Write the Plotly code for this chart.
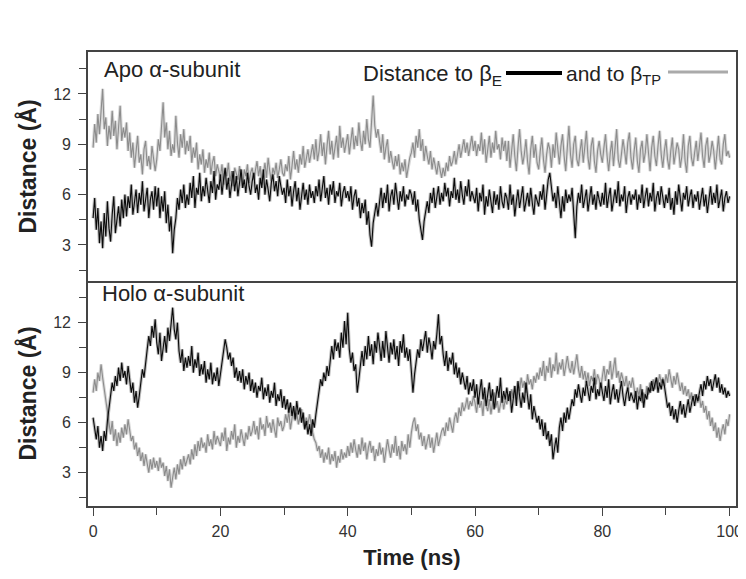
import plotly.graph_objects as go

# time axis (ns), 0.25 ns sampling
time_ns = [i * 0.25 for i in range(401)]

# Apo alpha-subunit: distance to beta_E (black)
apo_to_bE = [
    4.6, 5.8, 3.9, 5.2, 3.1, 4.4, 2.8, 4.9, 3.5, 5.6, 4.0, 3.2, 4.8, 5.9, 3.7, 4.5, 5.3, 4.1, 5.7, 4.6,
    6.0, 4.7, 5.9, 5.2, 6.6, 4.8, 5.5, 6.3, 4.9, 6.1, 5.4, 6.8, 5.0, 5.8, 6.4, 4.6, 5.7, 6.2, 5.1, 6.5,
    5.3, 6.4, 4.6, 5.9, 5.0, 6.2, 4.3, 5.4, 3.8, 4.7, 2.5, 3.9, 4.6, 5.8, 5.1, 6.3, 5.5, 6.6, 5.2, 6.0,
    5.4, 6.7, 5.8, 7.1, 5.2, 6.4, 6.0, 7.3, 5.6, 6.5, 5.9, 7.0, 6.2, 5.5, 6.8, 6.1, 7.4, 5.7, 6.6, 6.3,
    7.2, 6.0, 6.9, 7.6, 6.3, 7.0, 5.8, 6.7, 7.4, 6.2, 7.1, 5.9, 6.8, 7.5, 6.4, 6.9, 6.1, 7.3, 6.5, 6.0,
    6.8, 7.3, 6.1, 6.6, 5.7, 7.0, 6.4, 7.5, 6.0, 6.9, 6.3, 5.6, 6.7, 7.2, 6.2, 6.8, 5.9, 7.1, 6.5, 6.0,
    6.4, 5.5, 6.9, 5.9, 6.5, 5.3, 6.2, 6.8, 5.6, 6.4, 5.1, 6.0, 6.7, 5.7, 6.3, 5.4, 6.6, 5.8, 6.2, 5.5,
    6.5, 5.9, 6.9, 5.6, 6.3, 7.1, 5.8, 6.4, 5.4, 6.6, 6.0, 6.8, 5.5, 6.2, 5.9, 6.7, 5.3, 6.1, 6.5, 5.8,
    6.2, 5.6, 6.5, 5.1, 5.9, 6.3, 5.3, 5.8, 4.6, 5.5, 4.9, 5.7, 4.2, 5.0, 3.6, 2.9, 4.3, 4.8, 5.5, 4.7,
    5.8, 6.4, 5.2, 6.1, 5.5, 6.6, 5.0, 5.9, 6.3, 5.4, 6.7, 5.7, 5.1, 6.2, 5.6, 6.5, 5.3, 6.0, 5.7, 6.3,
    6.0, 5.4, 6.2, 5.0, 5.7, 4.5, 4.0, 3.3, 4.4, 5.1, 5.6, 4.9, 6.1, 5.5, 6.4, 5.2, 5.9, 6.5, 5.4, 6.1,
    5.6, 6.7, 5.9, 6.4, 5.3, 6.2, 5.8, 7.0, 5.7, 6.3, 5.5, 6.8, 6.0, 5.4, 6.5, 5.9, 6.9, 5.6, 6.2, 5.8,
    5.5, 6.4, 5.0, 6.1, 5.6, 6.6, 4.8, 5.9, 5.3, 6.3, 5.7, 4.9, 6.2, 5.4, 6.0, 5.1, 6.5, 5.6, 5.2, 6.1,
    5.8, 5.1, 6.6, 5.4, 6.0, 4.7, 5.6, 6.3, 5.2, 5.9, 6.5, 5.0, 5.7, 6.1, 5.3, 6.4, 5.5, 4.8, 6.0, 5.6,
    5.3, 6.2, 5.7, 6.6, 5.1, 6.0, 6.9, 7.3, 6.4, 5.6, 6.1, 5.2, 6.5, 5.4, 4.6, 5.9, 5.0, 6.3, 5.5, 6.0,
    5.6, 6.4, 4.9, 3.4, 5.3, 6.1, 5.5, 6.6, 5.2, 5.9, 6.3, 5.0, 5.8, 6.5, 5.4, 6.0, 5.1, 6.2, 5.7, 5.3,
    6.1, 5.4, 6.7, 5.2, 5.9, 6.4, 5.0, 5.7, 6.3, 5.5, 6.8, 5.3, 6.0, 5.6, 6.5, 4.9, 5.8, 6.2, 5.4, 6.0,
    5.7, 6.3, 5.1, 6.0, 5.5, 6.6, 5.2, 5.9, 6.4, 5.3, 6.1, 5.6, 6.7, 5.0, 5.8, 6.2, 5.4, 6.5, 5.7, 5.2,
    6.0, 5.5, 6.4, 5.1, 5.8, 4.8, 6.2, 5.4, 6.6, 5.6, 5.0, 6.1, 5.7, 6.5, 5.3, 5.9, 6.3, 5.2, 6.0, 5.6,
    6.2, 5.1, 5.8, 6.4, 5.3, 6.0, 4.9, 5.7, 6.5, 5.4, 6.1, 5.5, 6.6, 5.2, 5.9, 6.3, 5.0, 5.8, 6.2, 5.5,
    5.9,
]

# Apo alpha-subunit: distance to beta_TP (gray)
apo_to_bTP = [
    8.8, 10.2, 9.1, 10.8, 9.6, 11.2, 12.3, 9.9, 10.6, 8.9, 10.1, 9.3, 11.0, 9.5, 10.4, 8.7, 9.8, 11.3, 9.2, 10.0,
    9.4, 10.3, 8.6, 9.7, 8.2, 9.1, 7.6, 8.8, 9.5, 7.9, 8.4, 7.2, 8.7, 9.2, 7.7, 8.3, 7.5, 8.9, 8.0, 7.4,
    8.1, 9.3, 8.6, 10.2, 11.5, 9.4, 10.3, 8.7, 9.8, 8.3, 9.0, 8.5, 10.7, 9.1, 8.2, 9.6, 8.8, 9.9, 8.4, 9.2,
    8.6, 9.5, 7.9, 8.8, 8.2, 9.1, 7.5, 8.4, 7.8, 8.7, 7.3, 8.1, 7.6, 8.5, 7.2, 7.9, 8.3, 7.1, 7.8, 7.4,
    7.0, 7.8, 6.6, 7.5, 7.1, 7.9, 6.8, 7.4, 6.5, 7.6, 7.2, 6.9, 7.7, 7.0, 6.4, 7.5, 7.1, 7.8, 6.7, 7.3,
    7.6, 6.9, 7.4, 8.0, 7.1, 7.7, 6.6, 7.3, 7.9, 7.0, 8.2, 7.4, 6.8, 7.6, 7.2, 7.9, 7.0, 7.5, 8.1, 7.3,
    7.1, 7.8, 7.4, 8.3, 6.9, 7.7, 8.6, 7.5, 8.1, 7.3, 8.4, 7.8, 8.9, 7.6, 8.2, 8.7, 7.9, 8.5, 9.0, 8.1,
    9.3, 8.0, 8.6, 9.6, 8.3, 9.1, 7.8, 8.9, 9.8, 8.4, 9.2, 8.1, 8.7, 9.5, 8.2, 10.1, 8.8, 9.4, 8.5, 9.0,
    9.6, 8.4, 9.1, 10.0, 8.7, 9.5, 8.9, 10.3, 9.2, 8.6, 9.8, 9.0, 10.5, 9.3, 8.8, 10.2, 11.9, 10.1, 9.4, 9.9,
    9.2, 8.5, 9.6, 8.1, 8.8, 9.3, 7.9, 8.6, 8.0, 7.5, 8.3, 7.7, 8.4, 7.2, 7.9, 7.4, 8.1, 7.0, 7.6, 8.2,
    8.5, 9.1, 8.2, 9.5, 8.8, 9.9, 8.6, 9.3, 8.0, 8.9, 8.3, 7.8, 8.6, 7.5, 8.2, 7.7, 7.2, 8.0, 7.4, 7.0,
    7.6, 7.1, 7.9, 7.4, 8.3, 7.7, 8.0, 8.6, 7.8, 8.4, 9.0, 8.2, 8.7, 9.3, 8.5, 9.1, 8.3, 8.9, 9.5, 8.6,
    9.2, 8.3, 9.0, 8.6, 9.7, 8.4, 9.3, 7.9, 8.8, 9.5, 8.2, 9.1, 8.5, 9.8, 8.7, 9.0, 8.1, 9.4, 8.6, 9.2,
    8.0, 9.2, 7.6, 8.5, 9.6, 8.3, 7.4, 8.8, 9.9, 8.6, 7.8, 8.4, 9.3, 8.0, 7.2, 8.7, 9.5, 8.2, 9.0, 7.9,
    7.5, 8.6, 9.4, 8.1, 7.3, 8.4, 9.1, 8.7, 7.6, 9.0, 8.2, 9.7, 8.5, 7.8, 8.9, 9.6, 8.3, 7.4, 8.8, 10.1,
    8.4, 7.6, 9.0, 9.5, 8.1, 7.7, 8.6, 9.3, 7.9, 8.7, 9.8, 8.2, 7.5, 8.9, 9.4, 8.0, 7.3, 8.6, 9.2, 8.4,
    7.9, 8.8, 9.6, 8.3, 7.4, 8.5, 9.2, 7.7, 8.9, 9.9, 8.1, 7.6, 8.4, 9.3, 8.6, 7.8, 9.1, 9.7, 8.2, 7.5,
    8.6, 9.4, 8.0, 7.3, 8.7, 9.2, 7.9, 8.5, 9.6, 8.2, 7.4, 8.8, 9.5, 8.3, 7.7, 8.9, 9.8, 8.4, 7.6, 8.6,
    9.3, 8.1, 7.5, 8.6, 9.4, 7.8, 8.4, 9.1, 8.7, 7.6, 8.3, 9.6, 8.0, 7.3, 8.9, 9.5, 8.2, 7.7, 8.5, 9.2,
    8.0, 8.8, 9.7, 8.3, 7.6, 8.9, 9.4, 7.9, 8.4, 9.2, 8.6, 7.5, 8.7, 9.5, 8.1, 7.8, 9.0, 9.6, 8.3, 8.6,
    8.2,
]

# Holo alpha-subunit: distance to beta_E (black)
holo_to_bE = [
    6.3, 5.6, 5.0, 5.8, 4.5, 5.2, 4.3, 5.5, 4.9, 6.1, 6.8, 7.6, 8.4, 7.9, 8.8, 8.2, 9.3, 8.5, 9.6, 8.7,
    9.1, 8.3, 9.4, 8.6, 7.8, 8.4, 7.2, 7.9, 6.9, 7.6, 8.5, 9.2, 8.7, 9.8, 10.4, 11.2, 10.6, 11.8, 11.1, 12.2,
    10.8, 10.1, 11.4, 9.7, 10.5, 11.2, 10.2, 11.7, 10.9, 12.1, 12.9, 11.6, 11.0, 12.0, 10.3, 9.6, 10.4, 9.1, 9.9, 9.3,
    10.0, 9.4, 10.6, 9.0, 9.8, 9.3, 10.2, 8.8, 9.5, 8.9, 9.7, 8.4, 9.2, 8.6, 9.6, 8.3, 9.0, 8.5, 9.3, 8.2,
    8.9, 9.6, 10.3, 11.0, 10.5, 9.8, 10.2, 9.4, 9.9, 8.7, 9.3, 8.5, 9.1, 8.4, 9.2, 8.0, 8.8, 8.3, 9.0, 7.9,
    8.6, 7.8, 8.4, 7.5, 8.2, 7.9, 8.7, 7.4, 8.1, 7.6, 8.3, 7.2, 7.9, 7.5, 8.4, 7.0, 7.7, 7.3, 8.0, 6.9,
    7.6, 6.8, 7.4, 6.6, 7.2, 6.4, 7.0, 6.2, 7.3, 6.5, 6.9, 6.0, 6.6, 5.6, 6.1, 5.3, 5.9, 5.2, 6.2, 5.7,
    6.5, 7.3, 7.9, 8.6, 8.2, 9.0, 8.5, 9.4, 8.8, 9.9, 10.6, 9.8, 11.0, 10.3, 10.8, 9.9, 11.4, 10.5, 12.1, 10.7,
    12.6, 10.4, 9.6, 10.2, 9.1, 9.5, 7.8, 8.6, 9.7, 10.3, 9.4, 10.6, 9.8, 11.2, 10.0, 10.7, 9.5, 10.9, 10.2, 11.4,
    10.6, 9.7, 10.9, 9.9, 11.5, 10.3, 9.6, 10.8, 10.1, 11.0, 9.8, 10.6, 9.4, 10.9, 10.2, 11.3, 9.9, 10.5, 9.7, 10.4,
    8.8, 7.8, 8.9, 9.6, 10.4, 9.9, 11.0, 10.3, 10.8, 11.5, 10.2, 11.1, 10.6, 9.8, 10.9, 10.4, 11.3, 12.5, 10.7, 11.2,
    10.1, 9.4, 10.3, 9.1, 9.9, 9.5, 10.2, 8.9, 9.6, 8.7, 9.3, 8.3, 9.0, 8.5, 8.0, 8.8, 7.7, 8.4, 7.9, 8.6,
    7.5, 8.3, 7.1, 7.9, 8.6, 7.4, 8.1, 7.0, 7.8, 8.4, 7.3, 8.0, 6.8, 7.6, 8.2, 7.5, 8.7, 7.2, 7.9, 7.4,
    8.1, 7.3, 7.9, 6.6, 7.5, 8.2, 7.0, 8.5, 7.6, 6.9, 7.8, 7.2, 8.4, 7.4, 6.8, 7.7, 6.2, 7.0, 6.5, 6.0,
    6.4, 5.6, 6.2, 5.2, 6.0, 5.0, 5.5, 4.6, 5.3, 3.8, 4.5, 5.1, 4.2, 5.7, 6.3, 5.5, 6.6, 6.0, 6.9, 6.2,
    6.8, 7.4, 7.0, 8.0, 7.5, 8.3, 7.7, 7.2, 8.1, 7.6, 8.5, 7.9, 7.3, 8.2, 7.8, 8.7, 7.4, 8.0, 7.6, 8.4,
    7.9, 7.3, 8.2, 7.5, 8.6, 7.1, 7.8, 8.3, 7.4, 8.0, 7.2, 7.9, 8.5, 7.6, 7.0, 7.7, 8.1, 7.3, 7.8, 7.5,
    7.2, 7.9, 6.8, 7.6, 7.3, 8.0, 6.9, 7.7, 7.4, 8.1, 7.8, 8.5, 7.9, 8.3, 8.7, 7.8, 8.4, 8.0, 8.6, 8.2,
    7.5, 6.9, 7.2, 6.4, 7.0, 6.2, 6.8, 6.0, 6.7, 7.3, 6.5, 7.1, 6.3, 6.9, 7.4, 6.6, 7.2, 7.6, 7.0, 7.7,
    7.3, 7.9, 8.3, 7.6, 8.5, 8.0, 8.8, 8.2, 8.6, 7.9, 8.4, 8.9, 8.1, 8.7, 7.8, 8.3, 7.7, 8.1, 7.5, 7.9,
    7.6,
]

# Holo alpha-subunit: distance to beta_TP (gray)
holo_to_bTP = [
    7.8, 8.6, 7.9, 9.0, 8.5, 9.5, 8.7, 8.0, 7.2, 6.4, 5.8, 5.3, 6.1, 4.9, 5.6, 4.6, 5.4, 4.8, 5.7, 5.1,
    5.9, 5.3, 6.2, 5.6, 4.9, 5.2, 4.4, 4.8, 4.0, 4.5, 3.7, 4.2, 3.4, 4.1, 3.6, 3.0, 3.8, 3.2, 3.9, 3.3,
    3.7, 3.1, 3.9, 3.3, 3.6, 2.8, 3.4, 2.5, 3.2, 2.1, 2.7, 3.3, 2.6, 3.5, 2.9, 3.8, 3.2, 4.0, 3.4, 3.7,
    4.1, 3.5, 4.4, 3.8, 4.7, 4.0, 4.9, 4.3, 5.1, 4.5, 4.8, 4.2, 5.3, 4.6, 5.0, 4.4, 5.5, 4.7, 5.2, 4.9,
    4.6, 5.4, 4.9, 5.7, 4.3, 5.1, 4.7, 5.5, 5.0, 5.9, 4.5, 5.2, 4.8, 5.6, 5.1, 4.6, 5.4, 5.0, 5.8, 5.2,
    5.5, 6.1, 5.3, 5.8, 5.0, 6.3, 5.6, 5.9, 5.2, 6.4, 5.7, 6.0, 5.4, 6.2, 5.6, 5.1, 6.3, 5.8, 6.1, 5.5,
    5.8, 6.5, 6.0, 6.7, 5.6, 6.3, 6.9, 6.1, 6.6, 5.9, 6.4, 6.8, 6.2, 5.7, 6.3, 5.9, 6.5, 5.8, 5.4, 5.0,
    4.8, 4.3, 4.6, 3.9, 4.4, 3.6, 4.2, 3.8, 4.5, 3.5, 4.1, 3.7, 4.3, 3.3, 4.0, 3.6, 4.4, 3.8, 4.2, 3.9,
    4.6, 4.0, 4.8, 4.2, 5.0, 4.4, 3.9, 4.7, 4.1, 5.1, 4.3, 4.8, 3.8, 4.5, 4.9, 4.2, 4.6, 3.7, 4.4, 4.0,
    4.8, 4.1, 4.5, 3.6, 4.3, 5.0, 4.4, 3.9, 4.7, 4.2, 5.2, 4.0, 4.6, 3.8, 4.9, 4.3, 4.7, 4.1, 5.3, 4.5,
    5.4, 6.0, 6.3, 5.5, 5.9, 5.0, 5.4, 4.6, 5.2, 4.4, 4.9, 5.3, 4.5, 5.1, 4.2, 4.8, 5.4, 4.6, 5.0, 5.5,
    5.7, 5.2, 6.0, 5.5, 6.3, 5.8, 5.4, 6.2, 6.6, 6.0, 6.9, 6.4, 7.2, 6.7, 7.0, 7.5, 6.8, 7.3, 7.0, 7.6,
    7.2, 6.6, 7.5, 6.9, 7.3, 6.4, 7.7, 7.0, 6.7, 7.4, 6.5, 7.2, 7.8, 6.9, 7.3, 6.6, 7.1, 7.6, 6.8, 7.4,
    7.1, 7.7, 7.3, 8.0, 7.5, 8.2, 7.4, 8.4, 7.9, 8.7, 8.1, 8.5, 7.8, 8.9, 8.3, 8.6, 8.0, 8.8, 8.4, 9.0,
    8.6, 9.3, 8.8, 9.7, 8.5, 9.4, 9.0, 9.9, 8.7, 9.5, 9.1, 10.2, 8.9, 9.6, 9.2, 9.8, 8.8, 9.4, 10.0, 9.3,
    9.0, 9.7, 8.9, 9.5, 10.1, 9.2, 8.7, 9.4, 8.6, 9.1, 8.4, 9.0, 8.2, 8.8, 8.5, 9.2, 8.3, 8.9, 8.6, 8.1,
    8.8, 9.4, 8.5, 9.2, 8.9, 9.7, 8.6, 9.3, 9.9, 8.7, 9.1, 8.4, 9.0, 8.6, 8.2, 8.8, 8.0, 8.5, 8.1, 8.7,
    7.9, 7.4, 8.1, 7.6, 8.3, 7.2, 7.8, 7.5, 8.2, 7.7, 8.4, 7.9, 8.6, 8.0, 8.7, 8.3, 8.9, 8.4, 8.7, 8.2,
    8.9, 8.4, 9.2, 8.6, 8.1, 8.8, 8.3, 9.0, 8.5, 7.9, 8.4, 7.7, 8.2, 7.6, 8.0, 7.4, 7.8, 7.3, 7.7, 7.5,
    7.2, 7.6, 6.9, 7.3, 6.6, 7.0, 6.2, 6.7, 5.8, 6.3, 5.5, 6.0, 5.1, 5.7, 4.9, 5.5, 5.9, 5.3, 6.2, 5.8,
    6.5,
]

x_ticks = [0, 20, 40, 60, 80, 100]
y_ticks = [3, 6, 9, 12]

BLACK = "#0a0a0a"
GRAY = "#8c8c8c"
BLACK_HALO = "rgba(60,60,60,0.35)"
GRAY_HALO = "rgba(170,170,170,0.45)"
FONT = "Liberation Sans, Arial, sans-serif"
AX = "#444444"

# The page body has an 8 px default margin; the figure is sized so that the
# plot frame lands at page x 88..736, y 52..506.
OFF = 8
FIG_W, FIG_H = 746 - OFF, 579 - OFF

fig = go.Figure()

def add_series(y, color, halo, xa, ya):
    fig.add_trace(go.Scatter(x=time_ns, y=y, mode="lines", line=dict(color=halo, width=3.2),
                             xaxis=xa, yaxis=ya, showlegend=False, hoverinfo="skip"))
    fig.add_trace(go.Scatter(x=time_ns, y=y, mode="lines", line=dict(color=color, width=1.1),
                             xaxis=xa, yaxis=ya, showlegend=False))

add_series(apo_to_bTP, GRAY, GRAY_HALO, "x", "y")
add_series(apo_to_bE, BLACK, BLACK_HALO, "x", "y")
add_series(holo_to_bTP, GRAY, GRAY_HALO, "x2", "y2")
add_series(holo_to_bE, BLACK, BLACK_HALO, "x2", "y2")

split = 0.4956
axcommon = dict(showline=True, linecolor=AX, linewidth=1.6,
                showgrid=False, zeroline=False, automargin=False)
ycommon = dict(axcommon, mirror=True, tickvals=y_ticks, ticks="outside", ticklen=8, tickwidth=1.4,
               tickcolor=AX, ticklabelstandoff=4,
               tickfont=dict(family=FONT, size=16, color="#333"),
               minor=dict(tick0=1.5, dtick=3, ticks="outside", ticklen=7, tickwidth=1.4,
                          tickcolor=AX),
               title=dict(text="<b>Distance (Å)</b>", font=dict(family=FONT, size=23, color="#222"),
                          standoff=10))

fig.update_layout(
    width=FIG_W, height=FIG_H,
    margin=dict(l=88 - OFF, r=10, t=52 - OFF, b=73),
    paper_bgcolor="white", plot_bgcolor="white",
    xaxis=dict(axcommon, mirror=True, domain=[0, 1], anchor="y", range=[-0.8, 101],
               showticklabels=False, ticks="", matches="x2"),
    yaxis=dict(ycommon, domain=[split, 1], anchor="x", range=[0.85, 14.5]),
    xaxis2=dict(axcommon, mirror=False, domain=[0, 1], anchor="y2", range=[-0.8, 101],
                tickvals=x_ticks, ticks="outside", ticklen=8, tickwidth=1.4, tickcolor=AX,
                ticklabelstandoff=2,
                tickfont=dict(family=FONT, size=16, color="#333"),
                minor=dict(tick0=10, dtick=20, ticks="outside", ticklen=7, tickwidth=1.4,
                           tickcolor=AX),
                title=dict(text="<b>Time (ns)</b>", font=dict(family=FONT, size=22, color="#222"),
                           standoff=11)),
    yaxis2=dict(ycommon, domain=[0, split], anchor="x2", range=[1.0, 14.5]),
)

def px(xp):
    return (xp - 88) / 648.0

def py(yp):
    return (506 - yp) / 454.0

ann_font = dict(family=FONT, size=22, color="#222")
fig.add_annotation(xref="paper", yref="paper", x=px(102), y=py(70), xanchor="left", yanchor="middle",
                   text="Apo α-subunit", showarrow=False, font=ann_font)
fig.add_annotation(xref="paper", yref="paper", x=px(100), y=py(293), xanchor="left", yanchor="middle",
                   text="Holo α-subunit", showarrow=False, font=ann_font)
fig.add_annotation(xref="paper", yref="paper", x=px(504), y=py(75), xanchor="right", yanchor="middle",
                   text="Distance to β<sub>E</sub>", showarrow=False, font=ann_font)
fig.add_annotation(xref="paper", yref="paper", x=px(564), y=py(75), xanchor="left", yanchor="middle",
                   text="and to β<sub>TP</sub>", showarrow=False,
                   font=dict(family=FONT, size=21, color="#222"))
fig.add_shape(type="line", xref="paper", yref="paper", x0=px(506), x1=px(562), y0=py(73), y1=py(73),
              line=dict(color="#000", width=4))
fig.add_shape(type="line", xref="paper", yref="paper", x0=px(668), x1=px(728), y0=py(72), y1=py(72),
              line=dict(color="#aaa", width=3))

fig.write_html("out.html")
